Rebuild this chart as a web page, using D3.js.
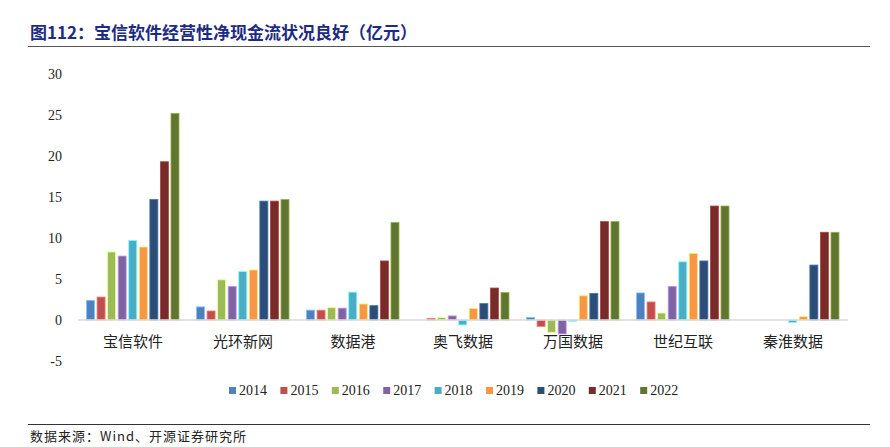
<!DOCTYPE html>
<html>
<head>
<meta charset="utf-8">
<script src="https://cdn.jsdelivr.net/npm/d3@7"></script>
<style>
    body { margin: 0; background: #fff; }
</style>
</head>
<body>
<div id="chart"></div>
<script>
    var width = 890;
    var height = 447;

    // data
    var companies = ["宝信软件", "光环新网", "数据港", "奥飞数据", "万国数据", "世纪互联", "秦淮数据"];
    var years = ["2014", "2015", "2016", "2017", "2018", "2019", "2020", "2021", "2022"];
    var colors = ["#4F81BD", "#C0504D", "#9BBB59", "#8064A2", "#4BACC6", "#F79646", "#2C4D75", "#772C2A", "#5F7530"];
    var yTicks = [-5, 0, 5, 10, 15, 20, 25, 30];

    // one row per company, one value per year
    var cashFlow = [
        [2.4, 2.8, 8.3, 7.8, 9.7, 8.9, 14.7, 19.3, 25.2],
        [1.6, 1.1, 4.9, 4.1, 5.9, 6.1, 14.5, 14.5, 14.7],
        [1.2, 1.2, 1.5, 1.45, 3.4, 1.95, 1.75, 7.2, 11.9],
        [0, 0.2, 0.3, 0.5, -0.6, 1.4, 2.0, 3.9, 3.35],
        [0.3, -0.8, -1.5, -1.7, -0.15, 2.95, 3.25, 12.0, 12.0],
        [3.3, 2.2, 0.85, 4.1, 7.1, 8.1, 7.2, 13.9, 13.9],
        [0, 0, 0, 0, -0.3, 0.4, 6.7, 10.7, 10.7]
    ];

    var svg = d3.select("#chart").append("svg")
        .attr("width", width).attr("height", height);

    // title
    svg.append("text")
        .attr("x", 30).attr("y", 39)
        .style("font-family", "'Noto Sans CJK SC', sans-serif")
        .style("font-size", "17px")
        .style("font-weight", "bold")
        .style("fill", "#1d2b82")
        .text("图112：宝信软件经营性净现金流状况良好（亿元）");

    svg.append("line")
        .attr("x1", 28).attr("x2", 870).attr("y1", 46.5).attr("y2", 46.5)
        .style("stroke", "#555").style("stroke-width", 1);

    var x0 = d3.scaleBand().domain(companies).range([78, 848]);
    var x1 = d3.scaleBand().domain(years).range([8.5, 101]).paddingInner(0.24);
    var y = d3.scaleLinear().domain([-5, 30]).range([361, 74]);

    // y labels
    svg.selectAll(".ytick")
        .data(yTicks)
        .enter().append("text")
        .attr("x", 62)
        .attr("y", function (d) { return y(d) + 5; })
        .attr("text-anchor", "end")
        .style("font-family", "'Liberation Serif', serif")
        .style("font-size", "14px")
        .style("fill", "#222")
        .text(function (d) { return d; });

    // bars
    var groups = svg.selectAll(".grp")
        .data(companies)
        .enter().append("g")
        .attr("transform", function (d) { return "translate(" + x0(d) + ",0)"; });

    groups.selectAll("rect")
        .data(function (d, i) {
            return years.map(function (yr, j) { return { year: yr, value: cashFlow[i][j], color: colors[j] }; });
        })
        .enter().append("rect")
        .filter(function (d) { return d.value !== 0; })
        .attr("x", function (d) { return x1(d.year); })
        .attr("width", x1.bandwidth())
        .attr("y", function (d) { return y(Math.max(0, d.value)); })
        .attr("height", function (d) { return Math.abs(y(d.value) - y(0)); })
        .style("fill", function (d) { return d.color; })
        .style("stroke", function (d) { return d3.color(d.color).brighter(1.2); })
        .style("stroke-width", 0.8);

    // zero axis
    svg.append("line")
        .attr("x1", 78).attr("x2", 848).attr("y1", y(0)).attr("y2", y(0))
        .style("stroke", "#d9d9d9").style("stroke-width", 1.5);

    // category labels
    svg.selectAll(".cat")
        .data(companies)
        .enter().append("text")
        .attr("x", function (d) { return x0(d) + x0.bandwidth() / 2; })
        .attr("y", 347)
        .attr("text-anchor", "middle")
        .style("font-family", "'Noto Sans CJK SC', sans-serif")
        .style("font-size", "15px")
        .style("fill", "#222")
        .text(function (d) { return d; });

    // legend
    var legend = svg.selectAll(".leg")
        .data(years)
        .enter().append("g")
        .attr("transform", function (d, i) { return "translate(" + (229 + i * 51.4) + ",387)"; });

    legend.append("rect")
        .attr("width", 7).attr("height", 7)
        .style("fill", function (d, i) { return colors[i]; });

    legend.append("text")
        .attr("x", 10).attr("y", 8)
        .style("font-family", "'Liberation Serif', serif")
        .style("font-size", "14px")
        .style("fill", "#222")
        .text(function (d) { return d; });

    // footer
    svg.append("line")
        .attr("x1", 28).attr("x2", 870).attr("y1", 424.5).attr("y2", 424.5)
        .style("stroke", "#333").style("stroke-width", 1);

    svg.append("text")
        .attr("x", 30).attr("y", 441)
        .style("font-family", "'Noto Sans CJK SC', sans-serif")
        .style("font-size", "13px")
        .style("letter-spacing", "1px")
        .style("fill", "#222")
        .text("数据来源：Wind、开源证券研究所");
</script>
</body>
</html>
